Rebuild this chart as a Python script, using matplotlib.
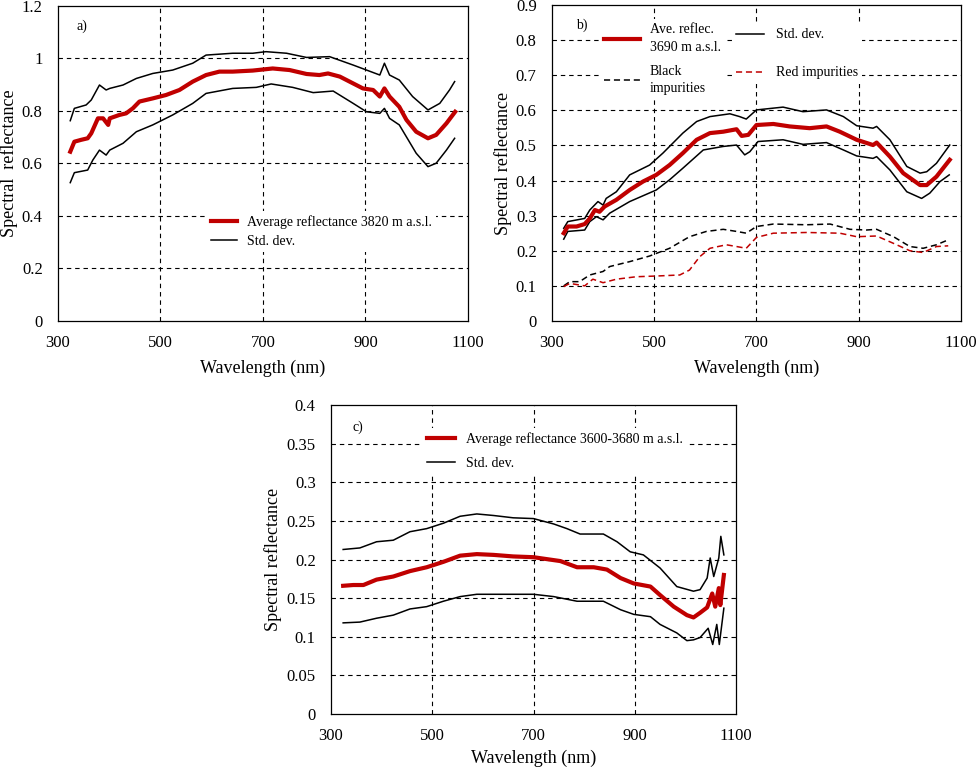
import matplotlib
matplotlib.use("Agg")
import matplotlib.pyplot as plt
from matplotlib.ticker import FuncFormatter

plt.rcParams['font.family'] = ['Liberation Serif', 'DejaVu Serif']

# ---- panel a) 3820 m a.s.l.
wl_a_mean = [324, 332, 345, 358, 365, 378, 388, 398, 401, 420, 433, 446, 459, 485, 511, 537, 563, 589,
             615, 641, 680, 719, 752, 785, 810, 827, 850, 876, 895, 915, 928, 937, 947, 966, 980, 999,
             1022, 1038, 1058, 1075]
ref_a_mean = [0.645, 0.683, 0.690, 0.696, 0.715, 0.772, 0.772, 0.747, 0.772, 0.785, 0.791, 0.810, 0.836,
              0.848, 0.861, 0.880, 0.912, 0.937, 0.950, 0.950, 0.954, 0.962, 0.956, 0.941, 0.937, 0.943,
              0.931, 0.905, 0.886, 0.880, 0.855, 0.886, 0.855, 0.816, 0.766, 0.721, 0.696, 0.709, 0.753,
              0.797]
wl_a_up = [324, 332, 355, 365, 381, 394, 401, 427, 453, 485, 524, 563, 589, 641, 680, 706, 746, 785, 830,
           876, 902, 928, 937, 947, 966, 992, 1022, 1045, 1064, 1074]
ref_a_up = [0.763, 0.810, 0.823, 0.842, 0.899, 0.880, 0.886, 0.899, 0.924, 0.943, 0.956, 0.982, 1.013,
            1.020, 1.020, 1.026, 1.020, 1.004, 1.007, 0.975, 0.956, 0.937, 0.982, 0.937, 0.918, 0.855,
            0.804, 0.829, 0.880, 0.912]
wl_a_lo = [324, 332, 358, 368, 381, 394, 401, 427, 453, 485, 524, 563, 589, 641, 687, 716, 758, 798, 837,
           876, 902, 928, 937, 947, 966, 999, 1022, 1038, 1058, 1074]
ref_a_lo = [0.527, 0.565, 0.575, 0.613, 0.651, 0.632, 0.651, 0.677, 0.721, 0.747, 0.785, 0.829, 0.867,
            0.886, 0.890, 0.903, 0.890, 0.870, 0.876, 0.829, 0.797, 0.791, 0.810, 0.772, 0.747, 0.639,
            0.588, 0.601, 0.651, 0.696]

# ---- panel b) 3690 m a.s.l. with impurities
wl_b_mean = [323, 331, 348, 364, 374, 384, 393, 403, 426, 452, 478, 504, 530, 556, 583, 609, 635, 661,
             671, 684, 700, 733, 765, 804, 837, 863, 896, 928, 935, 961, 987, 1020, 1033, 1052, 1078]
ref_b_mean = [0.250, 0.269, 0.269, 0.276, 0.292, 0.316, 0.311, 0.326, 0.345, 0.373, 0.397, 0.416, 0.444,
              0.478, 0.516, 0.535, 0.539, 0.546, 0.527, 0.530, 0.558, 0.561, 0.554, 0.549, 0.554, 0.539,
              0.516, 0.501, 0.508, 0.468, 0.421, 0.387, 0.387, 0.411, 0.459]
wl_b_up = [323, 331, 364, 374, 390, 400, 406, 426, 452, 491, 517, 556, 583, 609, 648, 667, 680, 700, 752,
           791, 837, 870, 896, 928, 935, 961, 994, 1020, 1033, 1052, 1078]
ref_b_up = [0.264, 0.283, 0.292, 0.316, 0.340, 0.330, 0.349, 0.368, 0.416, 0.444, 0.478, 0.535, 0.568,
            0.582, 0.590, 0.582, 0.575, 0.601, 0.609, 0.596, 0.601, 0.582, 0.556, 0.549, 0.554, 0.516,
            0.440, 0.421, 0.425, 0.449, 0.501]
wl_b_lo = [323, 331, 364, 374, 387, 400, 413, 452, 504, 530, 556, 596, 635, 661, 677, 687, 703, 752, 791,
           837, 870, 896, 928, 935, 961, 994, 1023, 1039, 1059, 1077]
ref_b_lo = [0.233, 0.255, 0.259, 0.283, 0.297, 0.288, 0.307, 0.340, 0.373, 0.402, 0.435, 0.487, 0.497,
            0.501, 0.473, 0.482, 0.511, 0.516, 0.503, 0.508, 0.487, 0.470, 0.463, 0.468, 0.430, 0.368,
            0.349, 0.364, 0.397, 0.416]
wl_b_black = [323, 335, 354, 374, 400, 413, 452, 491, 530, 569, 602, 635, 661, 680, 700, 733, 798, 844,
              883, 915, 935, 968, 1000, 1026, 1052, 1075]
ref_b_black = [0.100, 0.112, 0.112, 0.131, 0.141, 0.155, 0.169, 0.185, 0.207, 0.240, 0.255, 0.261, 0.255,
               0.250, 0.269, 0.276, 0.274, 0.276, 0.261, 0.259, 0.261, 0.240, 0.212, 0.207, 0.217, 0.231]
wl_b_red = [323, 335, 364, 380, 400, 426, 465, 504, 550, 569, 589, 609, 641, 661, 680, 700, 733, 798, 863,
            896, 935, 968, 1000, 1026, 1052, 1075]
ref_b_red = [0.098, 0.107, 0.100, 0.119, 0.109, 0.119, 0.126, 0.128, 0.131, 0.145, 0.183, 0.207, 0.217,
             0.212, 0.207, 0.238, 0.250, 0.252, 0.250, 0.240, 0.242, 0.221, 0.200, 0.195, 0.212, 0.214]

# ---- panel c) 3600-3680 m a.s.l.
wl_c_mean = [324, 344, 364, 390, 423, 456, 489, 522, 555, 588, 621, 660, 700, 753, 786, 819, 845, 872, 898,
             931, 950, 977, 1003, 1016, 1029, 1043, 1053, 1059, 1066, 1069, 1076]
ref_c_mean = [0.166, 0.167, 0.167, 0.174, 0.178, 0.185, 0.190, 0.197, 0.205, 0.207, 0.206, 0.204, 0.203,
              0.198, 0.190, 0.190, 0.187, 0.176, 0.169, 0.165, 0.154, 0.139, 0.128, 0.125, 0.131, 0.138,
              0.156, 0.139, 0.163, 0.141, 0.180]
wl_c_up = [324, 357, 390, 423, 456, 489, 522, 555, 588, 621, 660, 700, 740, 766, 792, 838, 865, 891, 917,
           950, 983, 1016, 1029, 1043, 1049, 1056, 1066, 1070, 1076]
ref_c_up = [0.213, 0.215, 0.223, 0.225, 0.236, 0.240, 0.247, 0.256, 0.259, 0.257, 0.254, 0.253, 0.246,
            0.240, 0.233, 0.233, 0.223, 0.210, 0.206, 0.189, 0.165, 0.159, 0.161, 0.176, 0.202, 0.178,
            0.202, 0.230, 0.206]
wl_c_lo = [324, 357, 390, 423, 456, 489, 522, 555, 588, 621, 700, 740, 786, 838, 872, 898, 931, 950, 983,
           1003, 1016, 1029, 1045, 1054, 1062, 1067, 1076]
ref_c_lo = [0.118, 0.119, 0.124, 0.128, 0.136, 0.139, 0.146, 0.152, 0.155, 0.155, 0.155, 0.152, 0.146,
            0.146, 0.135, 0.129, 0.126, 0.116, 0.105, 0.095, 0.096, 0.099, 0.111, 0.090, 0.116, 0.090,
            0.137]

x_ticks = [300, 500, 700, 900, 1100]
red = '#C00000'
grid_dash = (0, (4, 3.5))
leg_kw = dict(loc='upper left', fontsize=10, frameon=True, fancybox=False, edgecolor='none',
              facecolor='white', framealpha=1, borderpad=0.3, borderaxespad=0)


def style_axes(ax, ymax, ystep, label, xlabelpad=6):
    ax.set_xlim(300, 1100)
    ax.set_ylim(0, ymax)
    ax.set_xticks(x_ticks)
    n = int(round(ymax / ystep))
    ax.set_yticks([i * ystep for i in range(n + 1)])
    ax.yaxis.set_major_formatter(FuncFormatter(lambda v, p: '%g' % round(v, 3)))
    ax.tick_params(axis='both', length=0, labelsize=12)
    ax.tick_params(axis='x', pad=10)
    ax.tick_params(axis='y', pad=11)
    for g in [500, 700, 900]:
        ax.axvline(g, color='black', lw=0.8, ls=grid_dash, zorder=1)
    for i in range(1, n):
        ax.axhline(i * ystep, color='black', lw=0.8, ls=grid_dash, zorder=1)
    for s in ax.spines.values():
        s.set_linewidth(0.9)
    ax.set_xlabel('Wavelength (nm)', fontsize=13, labelpad=xlabelpad)
    ax.set_ylabel(label, fontsize=13, labelpad=3)


fig = plt.figure(figsize=(9.79, 7.69), dpi=100)
ax_a = fig.add_axes([0.0592, 0.5826, 0.4188, 0.4096])
ax_b = fig.add_axes([0.5638, 0.5826, 0.4178, 0.4110])
ax_c = fig.add_axes([0.3381, 0.0715, 0.4137, 0.4018])

# a)
style_axes(ax_a, 1.2, 0.2, 'Spectral  reflectance')
ax_a.plot(wl_a_up, ref_a_up, color='black', lw=1.1, zorder=3)
ax_a.plot(wl_a_lo, ref_a_lo, color='black', lw=1.1, zorder=3)
la1, = ax_a.plot(wl_a_mean, ref_a_mean, color=red, lw=3.0, zorder=4)
la2, = ax_a.plot([], [], color='black', lw=1.1)
ax_a.text(0.045, 0.925, 'a)', transform=ax_a.transAxes, fontsize=10)
leg = ax_a.legend([la1, la2], ['Average reflectance 3820 m a.s.l.', 'Std. dev.'],
                  bbox_to_anchor=(0.363, 0.35), handlelength=1.9, handletextpad=0.7,
                  labelspacing=0.45, **leg_kw)
leg.set_zorder(2)

# b)
style_axes(ax_b, 0.9, 0.1, 'Spectral reflectance')
ax_b.plot(wl_b_up, ref_b_up, color='black', lw=1.1, zorder=3)
ax_b.plot(wl_b_lo, ref_b_lo, color='black', lw=1.1, zorder=3)
lb1, = ax_b.plot(wl_b_mean, ref_b_mean, color=red, lw=3.0, zorder=4)
lb3, = ax_b.plot(wl_b_black, ref_b_black, color='black', lw=1.1, ls=(0, (4, 2.5)), zorder=3)
lb4, = ax_b.plot(wl_b_red, ref_b_red, color=red, lw=1.1, ls=(0, (4, 2.5)), zorder=3)
lb2, = ax_b.plot([], [], color='black', lw=1.1)
ax_b.text(0.06, 0.925, 'b)', transform=ax_b.transAxes, fontsize=10)
leg1 = ax_b.legend([lb1, lb3], ['Ave. reflec.\n3690 m a.s.l.', 'Black\nimpurities'],
                   bbox_to_anchor=(0.117, 0.955), handlelength=2.6, handletextpad=0.7,
                   labelspacing=0.8, **leg_kw)
for t in leg1.get_texts():
    t.set_linespacing(1.45)
leg1.set_zorder(2)
ax_b.add_artist(leg1)
leg2 = ax_b.legend([lb2, lb4], ['Std. dev.', 'Red impurities'],
                   bbox_to_anchor=(0.44, 0.939), handlelength=2.0, handletextpad=0.86,
                   labelspacing=1.8, **leg_kw)
leg2.set_zorder(2)

# c)
style_axes(ax_c, 0.4, 0.05, 'Spectral reflectance', xlabelpad=4)
ax_c.plot(wl_c_up, ref_c_up, color='black', lw=1.1, zorder=3)
ax_c.plot(wl_c_lo, ref_c_lo, color='black', lw=1.1, zorder=3)
lc1, = ax_c.plot(wl_c_mean, ref_c_mean, color=red, lw=3.0, zorder=4)
lc2, = ax_c.plot([], [], color='black', lw=1.1)
ax_c.text(0.052, 0.915, 'c)', transform=ax_c.transAxes, fontsize=10)
leg = ax_c.legend([lc1, lc2], ['Average reflectance 3600-3680 m a.s.l.', 'Std. dev.'],
                  bbox_to_anchor=(0.227, 0.925), handlelength=2.0, handletextpad=0.8,
                  labelspacing=0.75, **leg_kw)
leg.set_zorder(2)

fig.savefig('out.png', dpi=100)
